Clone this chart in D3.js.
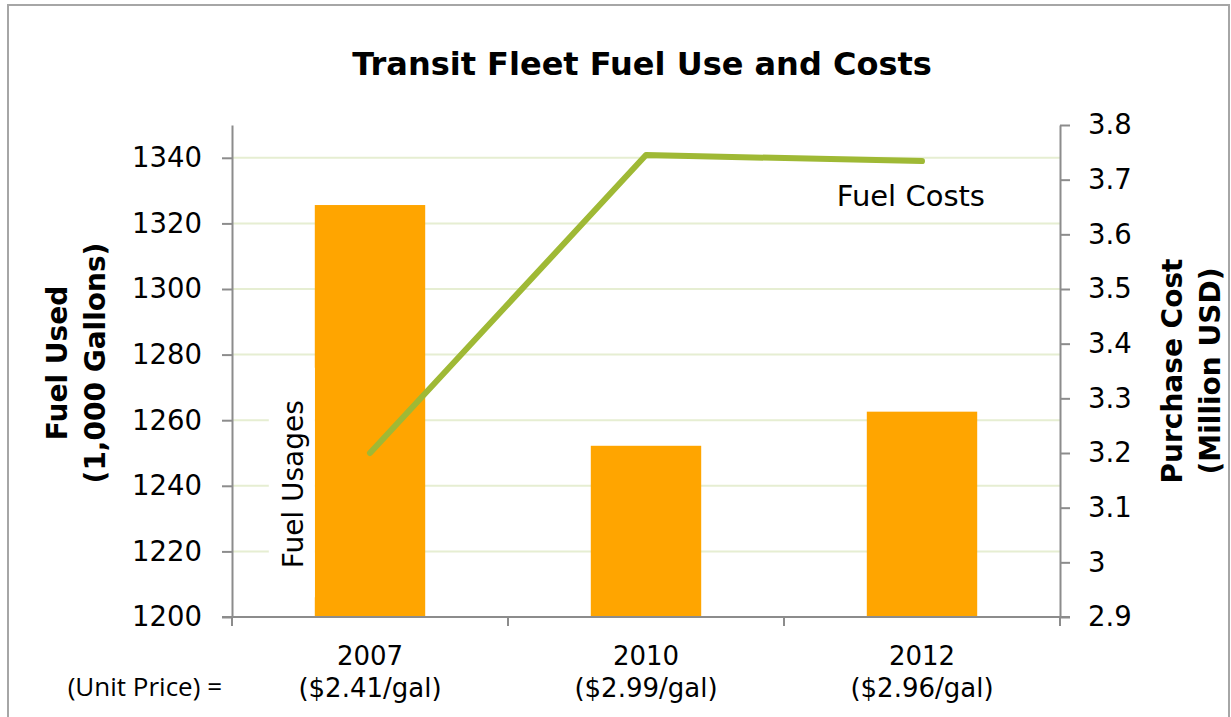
<!DOCTYPE html>
<html>
<head>
<meta charset="utf-8">
<script src="https://cdn.jsdelivr.net/npm/d3@7"></script>
<style>
  body { margin: 0; background: #fff; }
  text { font-family: "DejaVu Sans", Verdana, sans-serif; fill: #000; }
</style>
</head>
<body>
<div id="chart"></div>
<script>
// data
var years = ["2007", "2010", "2012"];
var unitPrices = ["($2.41/gal)", "($2.99/gal)", "($2.96/gal)"];
var fuelUsed = [1325.6, 1252.2, 1262.6];   // 1,000 gallons
var fuelCost = [3.20, 3.745, 3.734];       // million USD
var leftTicks = [1200, 1220, 1240, 1260, 1280, 1300, 1320, 1340];
var rightTicks = [2.9, 3.0, 3.1, 3.2, 3.3, 3.4, 3.5, 3.6, 3.7, 3.8];

var W = 1231, H = 717;
var margin = { top: 125, right: 171, bottom: 100, left: 232 },
    width = W - margin.left - margin.right,
    height = H - margin.top - margin.bottom;

var svg = d3.select("#chart").append("svg").attr("width", W).attr("height", H);

// outer frame
svg.append("rect").attr("x", 8).attr("y", 5).attr("width", 1221).attr("height", 730)
    .attr("fill", "none").attr("stroke", "#a6a6a6").attr("stroke-width", 2);

svg.append("text").attr("x", 642).attr("y", 75).attr("text-anchor", "middle")
    .style("font-size", "32px").style("font-weight", "bold")
    .text("Transit Fleet Fuel Use and Costs");

var g = svg.append("g").attr("transform", "translate(" + margin.left + "," + margin.top + ")");

var x = d3.scaleBand().domain(years).range([0, width]).paddingInner(0.6).paddingOuter(0.3);
var yL = d3.scaleLinear().domain([1200, 1350]).range([height, 0]);
var yR = d3.scaleLinear().domain([2.9, 3.8]).range([height, 0]);

// gridlines
g.append("g").selectAll("line").data(leftTicks.slice(1)).enter().append("line")
    .attr("x1", 0).attr("x2", width)
    .attr("y1", function(d) { return yL(d); }).attr("y2", function(d) { return yL(d); })
    .attr("stroke", "#e6eed2").attr("stroke-width", 2);

// bars
g.append("g").selectAll("rect").data(fuelUsed).enter().append("rect")
    .attr("x", function(d, i) { return x(years[i]); })
    .attr("width", x.bandwidth())
    .attr("y", function(d) { return yL(d); })
    .attr("height", function(d) { return height - yL(d); })
    .attr("fill", "#ffa500");

// white box behind "Fuel Usages"
var fuX = x(years[0]) - 22;
g.append("rect").attr("x", fuX - 24).attr("width", 24 + 22)
    .attr("y", yL(1276)).attr("height", yL(1206) - yL(1276)).attr("fill", "#fff");
g.append("text").attr("transform", "translate(" + (fuX + 10) + "," + yL(1240.5) + ") rotate(-90)")
    .attr("text-anchor", "middle").style("font-size", "28px")
    .text("Fuel Usages");

// cost line
var line = d3.line()
    .x(function(d, i) { return x(years[i]) + x.bandwidth() / 2; })
    .y(function(d) { return yR(d); });
g.append("path").datum(fuelCost).attr("d", line)
    .attr("fill", "none").attr("stroke", "#9fb935").attr("stroke-width", 6)
    .attr("stroke-linecap", "round").attr("stroke-linejoin", "round");

g.append("text").attr("x", x(years[2]) - 30).attr("y", yR(3.651)).style("font-size", "29px")
    .text("Fuel Costs");

// axes
var axisColor = "#8c8c8c";
var leftAxis = g.append("g")
    .call(d3.axisLeft(yL).tickValues(leftTicks).tickSize(10).tickSizeOuter(0).tickPadding(20)
        .tickFormat(d3.format("d")));
var rightAxis = g.append("g").attr("transform", "translate(" + width + ",0)")
    .call(d3.axisRight(yR).tickValues(rightTicks).tickSize(10).tickSizeOuter(0).tickPadding(18)
        .tickFormat(function(d) { return String(+d.toFixed(1)); }));

// bottom axis: line plus ticks on band boundaries
var bottom = g.append("g").attr("transform", "translate(0," + height + ")");
bottom.append("line").attr("x1", -10).attr("x2", width + 10)
    .attr("stroke", axisColor).attr("stroke-width", 2);
bottom.selectAll(".bt").data(d3.range(years.length + 1)).enter().append("line")
    .attr("class", "bt")
    .attr("x1", function(i) { return i * x.step(); }).attr("x2", function(i) { return i * x.step(); })
    .attr("y1", 0).attr("y2", 9).attr("stroke", axisColor).attr("stroke-width", 2);

var cats = bottom.selectAll(".cat").data(years).enter().append("text")
    .attr("class", "cat").attr("text-anchor", "middle").style("font-size", "26px")
    .attr("transform", function(d) { return "translate(" + (x(d) + x.bandwidth() / 2) + ",0)"; });
cats.append("tspan").attr("x", 0).attr("y", 48).text(function(d) { return d; });
cats.append("tspan").attr("x", 0).attr("y", 80).text(function(d, i) { return unitPrices[i]; });

bottom.append("text").attr("x", -10).attr("y", 79).attr("text-anchor", "end")
    .style("font-family", "'Open Sans', sans-serif").style("font-size", "26px")
    .text("(Unit Price) =");

[leftAxis, rightAxis].forEach(function(a) {
    a.select(".domain").attr("stroke", axisColor).attr("stroke-width", 2);
    a.selectAll(".tick line").attr("stroke", axisColor).attr("stroke-width", 2);
    a.selectAll(".tick text").style("font-size", "27.5px")
        .style("font-family", "'DejaVu Sans', Verdana, sans-serif").attr("fill", "#000");
});

// axis titles
var lt = svg.append("text").attr("transform", "translate(95," + (margin.top + height / 2 - 8) + ") rotate(-90)")
    .attr("text-anchor", "middle").style("font-size", "28px").style("font-weight", "bold");
lt.append("tspan").attr("x", 0).attr("y", -28).text("Fuel Used");
lt.append("tspan").attr("x", 0).attr("y", 10).text("(1,000 Gallons)");

var rt = svg.append("text").attr("transform", "translate(1192," + (margin.top + height / 2) + ") rotate(-90)")
    .attr("text-anchor", "middle").style("font-size", "28px").style("font-weight", "bold");
rt.append("tspan").attr("x", 0).attr("y", -10).text("Purchase Cost");
rt.append("tspan").attr("x", 0).attr("y", 28).text("(Million USD)");
</script>
</body>
</html>
